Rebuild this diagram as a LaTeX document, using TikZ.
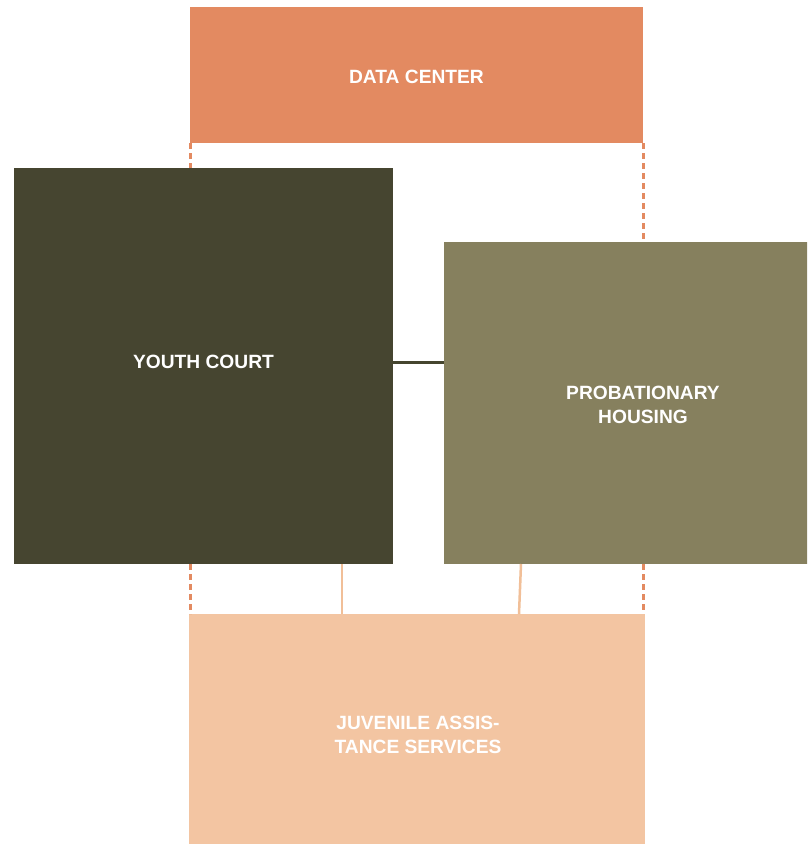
\documentclass[tikz,border=0pt]{standalone}
\usepackage{fontspec}
\setmainfont{Liberation Sans}
\definecolor{dcOrange}{HTML}{E38A61}
\definecolor{ycDark}{HTML}{464530}
\definecolor{phOlive}{HTML}{86805E}
\definecolor{jvPeach}{HTML}{F3C5A2}
\definecolor{peachLine}{HTML}{F1BF98}
\definecolor{lineDark}{HTML}{45452F}
\tikzset{
  box/.style={draw=none, inner sep=0pt, outer sep=0pt, rectangle},
  lbl/.style={text=white, font=\fontsize{19.2}{24}\selectfont\bfseries, align=center, inner sep=0pt},
  dashlink/.style={draw=dcOrange, line width=3pt, dash pattern=on 6pt off 4pt},
  peachlink/.style={draw=peachLine, line width=2.5pt},
  darklink/.style={draw=lineDark, line width=3pt}
}
\begin{document}
\begin{tikzpicture}[x=1pt, y=-1pt]
\useasboundingbox (0,0) rectangle (807,844);
\clip (0,0) rectangle (807,844);
\fill[white] (0,0) rectangle (807,844);
\node[box, fill=dcOrange, minimum width=453pt, minimum height=136pt] (dc) at (416.5,75.3) {};
\node[box, fill=ycDark, minimum width=379pt, minimum height=396pt] (yc) at (203.5,366) {};
\node[box, fill=phOlive, minimum width=398pt, minimum height=322.3pt] (ph) at (643,402.9) {};
\node[box, fill=jvPeach, minimum width=456pt, minimum height=242pt] (jv) at (417,735) {};
\node[lbl] (dct) at (416.5,76.8) {DATA CENTER};
\node[lbl] (yct) at (203.5,361.7) {YOUTH COURT};
\node[lbl] (pht) at (643,405.3) {PROBATIONARY\\HOUSING};
\node[lbl] (jvt) at (418,734.6) {JUVENILE ASSIS-\\TANCE SERVICES};
% connectors
\draw[dashlink] (dc.south west) -- (dc.south west |- yc.north);
\draw[dashlink] (dc.south east) -- (dc.south east |- ph.north);
\draw[dashlink] (dc.south west |- yc.south) -- (dc.south west |- jv.north);
\draw[dashlink] (dc.south east |- ph.south) -- (dc.south east |- jv.north);
\coordinate (s1) at (342,564);
\coordinate (s2top) at (521,564);
\coordinate (s2bot) at (519,614);
\draw[peachlink] (s1) -- (s1 |- jv.north);
\draw[peachlink] (s2top) -- (s2bot);
\coordinate (h) at (0,362);
\draw[darklink] (yc.east |- h) -- (ph.west |- h);
\end{tikzpicture}
\end{document}
